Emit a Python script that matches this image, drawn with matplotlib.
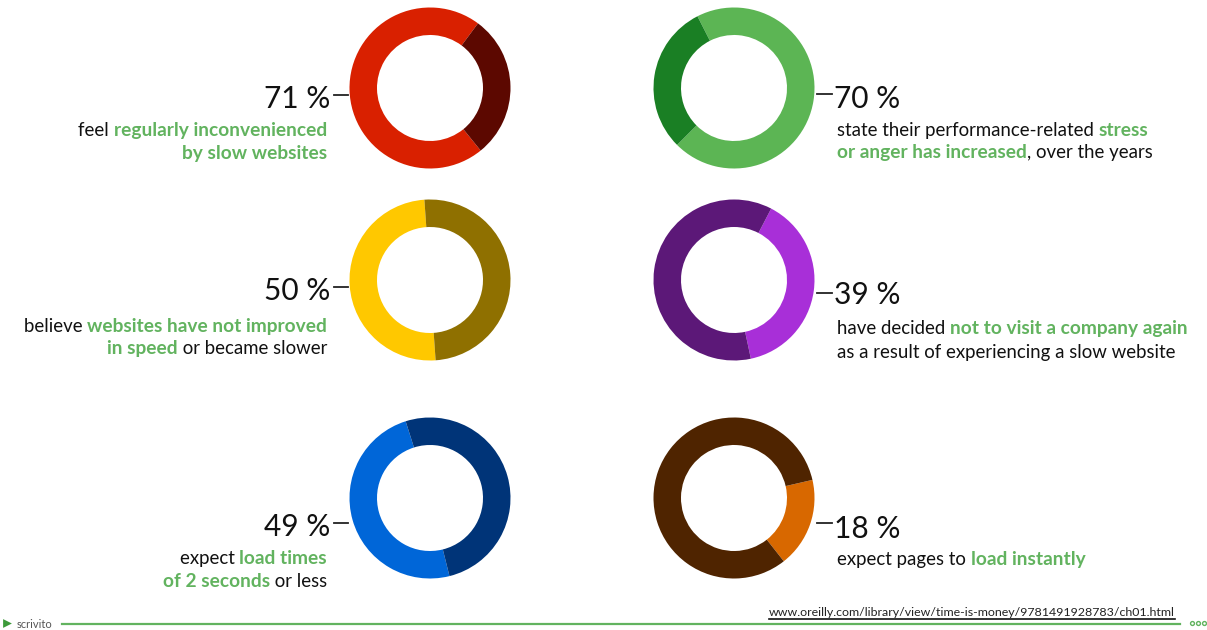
import matplotlib
matplotlib.use('Agg')
import matplotlib.pyplot as plt

plt.rcParams['font.family'] = ['Lato', 'DejaVu Sans']

W, H = 1207, 630
BLACK = '#111111'
GREEN = '#62b35f'

# share of respondents for each ring
percents = [71, 70, 50, 39, 49, 18]
main_colors = ['#d92000', '#5cb554', '#ffc800', '#a82fd8', '#0066d8', '#d86800']
rest_colors = ['#5c0800', '#1a7f24', '#8f7000', '#5c1878', '#003478', '#4f2400']
start_angles = [-51, 117, -86, 62.5, -76, 13]

# captions: each line is a list of (text, highlighted)
captions = [
    [[('feel ', False), ('regularly inconvenienced', True)],
     [('by slow websites', True)]],
    [[('state their performance-related ', False), ('stress', True)],
     [('or anger has increased', True), (', over the years', False)]],
    [[('believe ', False), ('websites have not improved', True)],
     [('in speed', True), (' or became slower', False)]],
    [[('have decided ', False), ('not to visit a company again', True)],
     [('as a result of experiencing a slow website', False)]],
    [[('expect ', False), ('load times', True)],
     [('of 2 seconds', True), (' or less', False)]],
    [[('expect pages to ', False), ('load instantly', True)]],
]

# ring centre, number height and caption lines, in pixels from the top left
centers = [(430, 88), (734, 88), (430, 280), (734, 280), (430, 498), (734, 498)]
number_y = [97, 96, 289, 293, 524, 526]
leader_y = [95, 94, 287, 293, 523, 523]
caption_y = [[129, 152], [129, 151], [325, 347], [327, 351], [557, 580], [558]]

source_url = 'www.oreilly.com/library/view/time-is-money/9781491928783/ch01.html'

fig = plt.figure(figsize=(W / 100, H / 100), dpi=100)
ax = fig.add_axes([0, 0, 1, 1])


def up(y):
    return H - y


def draw_line(parts, x, y, align_right):
    # lay the coloured pieces out one after the other
    renderer = fig.canvas.get_renderer()
    items = []
    total = 0
    for txt, hl in parts:
        t = ax.text(0, up(y), txt, fontsize=13.8 if hl else 13.4, va='center_baseline', ha='left',
                    color=GREEN if hl else BLACK,
                    fontweight='bold' if hl else 'normal')
        w = t.get_window_extent(renderer).width
        items.append((t, w))
        total += w
    cur = x - total if align_right else x
    for t, w in items:
        t.set_x(cur)
        cur += w


for i in range(len(percents)):
    cx, cy = centers[i]
    left_side = i % 2 == 0
    ax.pie([percents[i], 100 - percents[i]], colors=[main_colors[i], rest_colors[i]],
           center=(cx, up(cy)), radius=80.5, startangle=start_angles[i],
           counterclock=False, wedgeprops={'width': 27.5, 'linewidth': 0})

    label = str(percents[i]) + ' %'
    if left_side:
        ax.text(330, up(number_y[i]), label, fontsize=21.5, ha='right',
                va='center_baseline', color=BLACK)
        ax.plot([334, 348], [up(leader_y[i])] * 2, color='#222222', lw=1.3)
    else:
        ax.text(834, up(number_y[i]), label, fontsize=21.5, ha='left',
                va='center_baseline', color=BLACK)
        ax.plot([817, 832], [up(leader_y[i])] * 2, color='#222222', lw=1.3)

    for line, y in zip(captions[i], caption_y[i]):
        draw_line(line, 327 if left_side else 837, y, left_side)

# footer
ax.plot([62, 1180], [up(624)] * 2, color=GREEN, lw=1.6)
ax.text(1175, up(612), source_url, fontsize=8.9, ha='right', va='center_baseline', color='#222222')
ax.plot([769, 1175], [up(619)] * 2, color='#111111', lw=1.2)
ax.scatter([7], [up(623)], marker='>', s=40, color='#3d9a3a', linewidths=0)
ax.text(17, up(623), 'scrivito', fontsize=8, ha='left', va='center_baseline', color='#555555')
ax.plot([1192, 1198, 1204], [up(623)] * 3, 'o', ms=2.8, mfc='none', mec=GREEN, mew=1)

ax.set_xlim(0, W)
ax.set_ylim(0, H)
ax.set_aspect('auto')
ax.axis('off')

fig.savefig('out.png', dpi=100)
